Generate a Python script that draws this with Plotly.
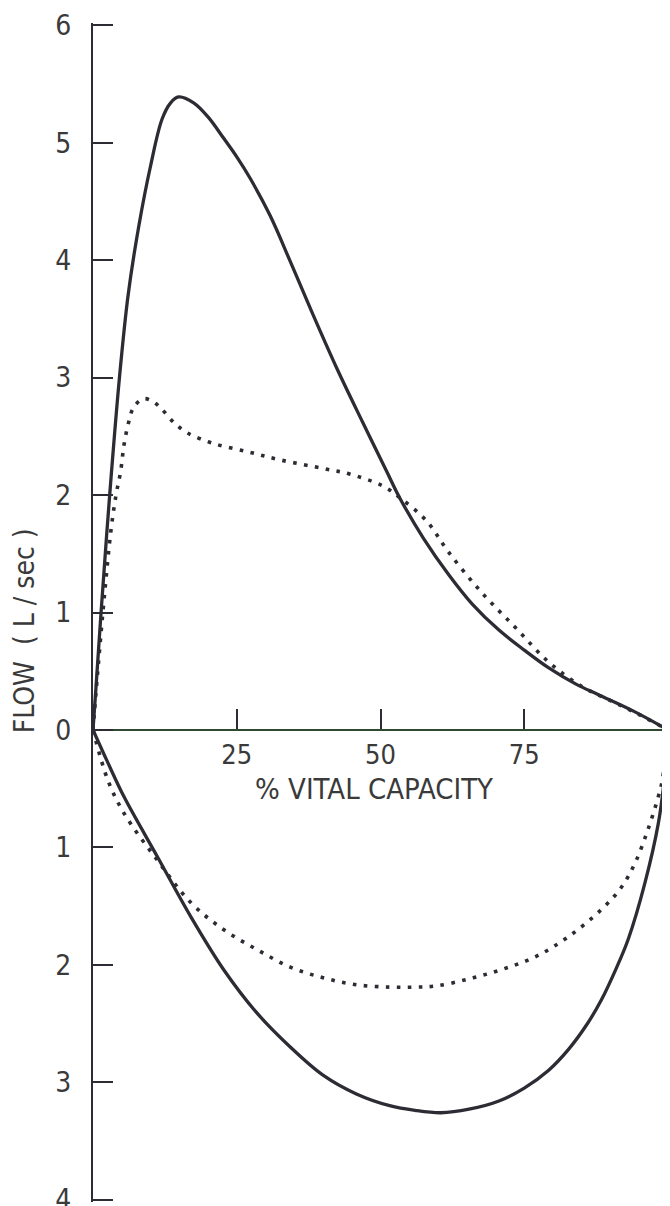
import plotly.graph_objects as go

# ---- data (x = % vital capacity, y = flow L/sec; inspiration negative) ----
solid_exp_x = [0, 0.5, 1.4, 2.9, 4.6, 6.1, 8.0, 10.0, 12.0, 13.5, 14.9, 17.5, 20, 22.7, 25, 27.3, 30.8, 34.3,
               37.7, 42.4, 46.9, 51.0, 53.3, 57.5, 61.9, 66, 70.6, 75, 79.2, 84, 87.9, 94, 100]
solid_exp_y = [0, 0.35, 1.0, 2.0, 3.0, 3.7, 4.3, 4.8, 5.2, 5.34, 5.39, 5.34, 5.22, 5.04, 4.88, 4.70, 4.38, 3.99,
               3.60, 3.08, 2.62, 2.21, 1.98, 1.63, 1.32, 1.07, 0.85, 0.68, 0.53, 0.39, 0.30, 0.16, 0]

dot_exp_x = [0, 1.0, 2.0, 3.1, 4.0, 4.8, 5.4, 6.2, 7.1, 8.8, 10.3, 11.8, 14.0, 16.4, 20.9, 26.8, 32.5,
             40.7, 44.6, 50.3, 53.3, 58.0, 61.9, 67.6, 73.5, 79.2, 85, 90, 95, 100]
dot_exp_y = [0, 0.6, 1.15, 1.69, 2.0, 2.2, 2.43, 2.62, 2.75, 2.82, 2.8, 2.74, 2.62, 2.53, 2.44, 2.37, 2.30,
             2.22, 2.18, 2.08, 1.98, 1.78, 1.51, 1.17, 0.87, 0.58, 0.37, 0.25, 0.13, 0]

solid_insp_x = [0, 2.5, 5.4, 11.2, 17, 22.7, 28.5, 34.3, 40, 45.8, 51.6, 56, 60.5, 65.4, 70.6, 75, 79.2,
                82.7, 86, 88.4, 91, 93.1, 96, 98.3, 99.4, 100]
solid_insp_y = [0, -0.27, -0.57, -1.08, -1.59, -2.04, -2.41, -2.70, -2.94, -3.10, -3.20, -3.24, -3.26,
                -3.23, -3.16, -3.05, -2.90, -2.72, -2.50, -2.30, -2.03, -1.78, -1.30, -0.80, -0.40, 0]

dot_insp_x = [0, 2.6, 5.4, 11.2, 17, 22.7, 28.5, 34.3, 40, 45.8, 51.6, 56, 59.7, 65.4, 71.1, 77, 82.7,
              88.4, 91.9, 94.3, 96.5, 98.3, 99.0, 100]
dot_insp_y = [0, -0.43, -0.71, -1.11, -1.47, -1.70, -1.87, -2.02, -2.11, -2.17, -2.19, -2.19, -2.18,
              -2.12, -2.04, -1.93, -1.76, -1.53, -1.34, -1.13, -0.85, -0.57, -0.43, 0]

y_tickvals = [6, 5, 4, 3, 2, 1, 0, -1, -2, -3, -4]
y_ticktext = ["6", "5", "4", "3", "2", "1", "0", "1", "2", "3", "4"]
x_tickvals = [25, 50, 75]
x_ticktext = ["25", "50", "75"]

FONT = "Liberation Sans Narrow, DejaVu Sans Condensed, Arial Narrow, sans-serif"
INK = "#2c2c34"
TXT = "#3a3a3a"

fig = go.Figure()
for xs, ys in [(solid_exp_x, solid_exp_y), (solid_insp_x, solid_insp_y)]:
    fig.add_trace(go.Scatter(x=xs, y=ys, mode="lines",
                             line=dict(color=INK, width=3.3, shape="spline", smoothing=1.0),
                             showlegend=False, hoverinfo="skip", cliponaxis=False))
for xs, ys in [(dot_exp_x, dot_exp_y), (dot_insp_x, dot_insp_y)]:
    fig.add_trace(go.Scatter(x=xs, y=ys, mode="lines",
                             line=dict(color=INK, width=3.6, dash="3.6px,7.4px", shape="spline", smoothing=1.0),
                             showlegend=False, hoverinfo="skip", cliponaxis=False))

# page body has an 8px margin: figure is sized so it fills the 670x1206 window exactly
fig.update_layout(
    width=662, height=1198,
    margin=dict(l=85, r=2, t=15, b=4, autoexpand=False),
    paper_bgcolor="white", plot_bgcolor="white",
    font=dict(family=FONT, color=TXT, size=28),
    xaxis=dict(range=[0, 100], anchor="free", position=0.4, automargin=False,
               showline=True, linecolor="#2f4a30", linewidth=2,
               ticks="inside", ticklen=20, tickwidth=2, tickcolor=INK,
               tickvals=x_tickvals, ticktext=x_ticktext,
               tickfont=dict(family=FONT, size=27, color=TXT),
               ticklabelstandoff=0,
               showgrid=False, zeroline=False),
    yaxis=dict(range=[-4.02, 6.02], showline=True, linecolor=INK, linewidth=2, automargin=False,
               ticks="inside", ticklen=20, tickwidth=2, tickcolor=INK,
               tickvals=y_tickvals, ticktext=y_ticktext,
               tickfont=dict(family=FONT, size=28, color=TXT),
               ticklabelstandoff=14, ticklabeloverflow="allow",
               showgrid=False, zeroline=False),
)
fig.add_annotation(text="% VITAL CAPACITY", x=49, xref="x", y=-0.5, yref="y", showarrow=False,
                   font=dict(family=FONT, size=29, color=TXT), xanchor="center", yanchor="middle")
fig.add_annotation(text="FLOW  ( L / sec )", xref="paper", yref="y",
                   x=-0.12, y=0.84, textangle=-90, showarrow=False,
                   font=dict(family=FONT, size=28, color=TXT),
                   xanchor="center", yanchor="middle")

fig.write_html("out.html")
